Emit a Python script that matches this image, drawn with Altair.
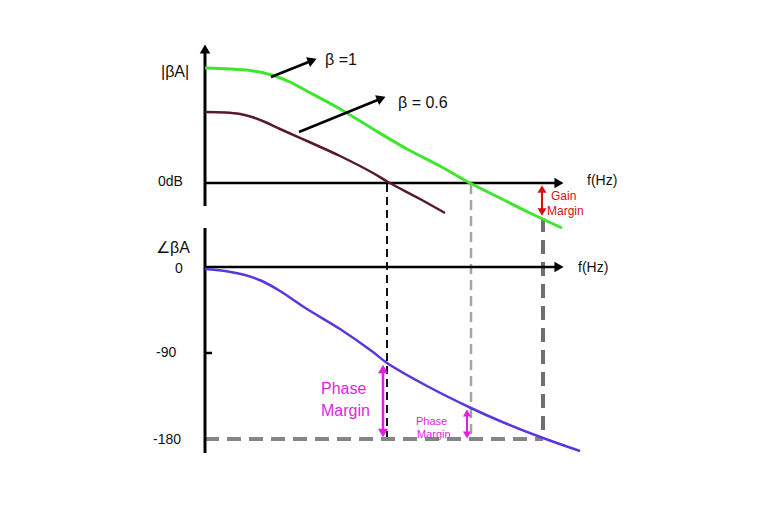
import math
import altair as alt
import pandas as pd

# ---- Data (diagram coordinates: x to the right, y downward) ----
# Magnitude curves
green_x = [205, 230, 250, 262, 275, 290, 305, 340, 373, 407, 440, 468, 500, 530, 562]
green_y = [68, 69, 70.5, 72.5, 76, 82, 90, 109, 129, 149, 166, 182, 198, 213, 228]
maroon_x = [205, 225, 240, 252, 265, 280, 307, 340, 373, 388, 420, 445]
maroon_y = [112, 112.5, 114, 117, 122, 129, 141, 156, 173, 182, 199, 213]
# Phase curve
phase_x = [205, 225, 245, 262, 280, 307, 340, 373, 387, 427, 471, 500, 543, 580]
phase_y = [269, 271, 275, 281, 291, 309, 329, 352, 363, 386, 408, 421, 438, 451]

# Axis lines: (x, x2, y, y2)
axis_h = [(205, 556, 183, 183), (205, 556, 267, 267), (205, 212, 353, 353)]
axis_v = [(205, 205, 52, 206), (205, 205, 228, 453)]
axis_heads = [(205, 49, "triangle-up"), (559, 183, "triangle-right"), (559, 267, "triangle-right")]

# Dashed guide lines: (x, x2, y, y2, color, width, dash)
guides = [
    (387, 387, 184, 440, "#111111", 2, [8, 5]),
    (471, 471, 184, 440, "#a3a3a3", 2.5, [10, 6]),
    (543, 543, 218, 439, "#6f6f6f", 4, [14, 8]),
    (205, 543, 439, 439, "#858585", 4, [14, 8]),
]

# Pointer arrows (from -> to)
pointers = [((271, 77), (316, 59)), ((299, 132), (385, 97))]

# Double-headed margin arrows: (x, y_top, y_bottom, color, width, head size)
margins = [
    (542, 186, 215, "#d90f0f", 2, 80),
    (383, 366, 436, "#e11ee1", 2.5, 100),
    (467, 410, 438, "#e11ee1", 2, 65),
]

# Text labels: (text, x, y, size, color)
labels = [
    ("|βA|", 161, 72, 16, "#111111"),
    ("β =1", 325, 60, 16, "#111111"),
    ("β = 0.6", 398, 103, 16, "#111111"),
    ("0dB", 158, 182, 14, "#111111"),
    ("f(Hz)", 587, 181, 14, "#111111"),
    ("∠βA", 156, 248, 16, "#111111"),
    ("0", 175, 269, 14, "#111111"),
    ("-90", 156, 353, 14, "#111111"),
    ("-180", 153, 440, 14, "#111111"),
    ("f(Hz)", 578, 268, 14, "#111111"),
    ("Gain", 551, 196, 12, "#d90f0f"),
    ("Margin", 547, 211, 12, "#d90f0f"),
    ("Phase", 321, 389, 16, "#e11ee1"),
    ("Margin", 321, 411, 16, "#e11ee1"),
    ("Phase", 416, 422, 11, "#e11ee1"),
    ("Margin", 417, 435, 11, "#e11ee1"),
]

FONT = "Liberation Sans"
W, H = 768, 513
XS = alt.Scale(domain=[0, W], nice=False, zero=False)
YS = alt.Scale(domain=[0, H], nice=False, zero=False, reverse=True)


def X(f="x"):
    return alt.X(f"{f}:Q", scale=XS, axis=None)


def Y(f="y"):
    return alt.Y(f"{f}:Q", scale=YS, axis=None)


layers = []


def curve(xs, ys, color, width):
    df = pd.DataFrame({"x": xs, "y": ys, "i": list(range(len(xs)))})
    return alt.Chart(df).mark_line(color=color, strokeWidth=width, interpolate="catmull-rom").encode(
        x=X(), y=Y(), order="i:Q")


def seg(x, x2, y, y2, color, width, dash=None):
    df = pd.DataFrame({"x": [x], "x2": [x2], "y": [y], "y2": [y2]})
    kw = dict(color=color, strokeWidth=width)
    if dash:
        kw["strokeDash"] = dash
    return alt.Chart(df).mark_rule(**kw).encode(
        x=X(), x2="x2:Q", y=Y(), y2="y2:Q")


def head(x, y, shape, color, size, angle=0):
    df = pd.DataFrame({"x": [x], "y": [y]})
    return alt.Chart(df).mark_point(shape=shape, filled=True, color=color, size=size,
                                     opacity=1, angle=angle, strokeWidth=0).encode(x=X(), y=Y())


# guides first (behind curves)
for g in guides:
    layers.append(seg(*g))

# axes
for a in axis_h:
    layers.append(seg(*a, "#000000", 2.5))
for a in axis_v:
    layers.append(seg(*a, "#000000", 3))
for hx, hy, shp in axis_heads:
    layers.append(head(hx, hy, shp, "#000000", 110))

# curves
layers.append(curve(green_x, green_y, "#3fe62e", 3))
layers.append(curve(maroon_x, maroon_y, "#5a1830", 2.5))
layers.append(curve(phase_x, phase_y, "#5a37dc", 2.5))

# pointer arrows
for (x0, y0), (x1, y1) in pointers:
    dx, dy = x1 - x0, y1 - y0
    L = math.hypot(dx, dy)
    ux, uy = dx / L, dy / L
    ang = math.degrees(math.atan2(dx, -dy))
    layers.append(seg(x0, x1 - ux * 6, y0, y1 - uy * 6, "#000000", 2.5))
    layers.append(head(x1 - ux * 4, y1 - uy * 4, "triangle-up", "#000000", 110, ang))

# margin arrows
for mx, yt, yb, col, wd, sz in margins:
    layers.append(seg(mx, mx, yt + 4, yb - 4, col, wd))
    layers.append(head(mx, yt + 3, "triangle-up", col, sz))
    layers.append(head(mx, yb - 3, "triangle-down", col, sz))

# text
for t, tx, ty, fs, col in labels:
    df = pd.DataFrame({"x": [tx], "y": [ty], "t": [t]})
    layers.append(alt.Chart(df).mark_text(align="left", baseline="middle", font=FONT,
                                           fontSize=fs, color=col).encode(
        x=X(), y=Y(), text="t:N"))

chart = alt.layer(*layers).properties(
    width=W, height=H, padding=0, autosize=alt.AutoSizeParams(type="none"),
    background="white"
).configure_view(stroke=None)

chart.save("out.html", embed_options={"renderer": "svg", "actions": False})
